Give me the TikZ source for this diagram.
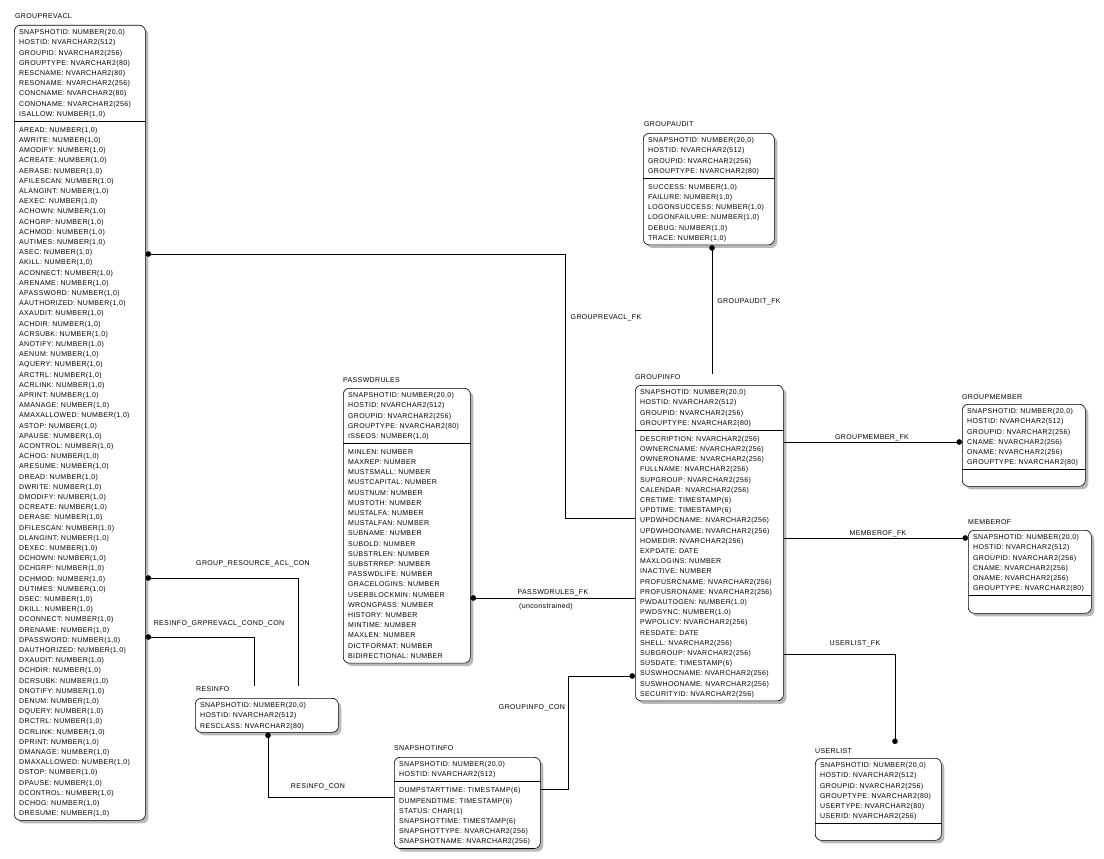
\documentclass[tikz,border=0pt]{standalone}
\usepackage{fontspec}
\newfontfamily\erfont[LetterSpace=5]{Liberation Sans}
\usetikzlibrary{arrows.meta,shadows}

\begin{document}
\begin{tikzpicture}[x=1pt, y=-1pt,
    ent/.style={draw, line width=0.6pt, rounded corners=6pt, fill=white,
      anchor=north west, inner sep=0pt,
      general shadow={fill=gray!55, shadow xshift=3pt, shadow yshift=-3pt}},
    attr/.style={anchor=north west, align=left, inner sep=0pt,
      font=\erfont\fontsize{7}{10.2}\selectfont},
    etitle/.style={anchor=base west, inner sep=0pt, font=\erfont\fontsize{7}{8}\selectfont},
    lbl/.style={inner sep=0pt, font=\erfont\fontsize{7}{8}\selectfont},
    sepline/.style={line width=0.6pt},
    fk/.style={line width=0.6pt, -{Circle[length=5.5pt]}}]
  \useasboundingbox (0,0) rectangle (1104,859);

  % GROUPREVACL
  \node[etitle] (grprevacl-t) at (15,19) {GROUPREVACL};
  \node[ent, minimum width=131pt, minimum height=795pt] (grprevacl) at (14,25) {};
  \draw[sepline] (grprevacl.west |- 0,121.1) -- (grprevacl.east |- 0,121.1);
  \node[attr] (grprevacl-k) at (19,29.4) {SNAPSHOTID: NUMBER(20,0)\\HOSTID: NVARCHAR2(512)\\
    GROUPID: NVARCHAR2(256)\\GROUPTYPE: NVARCHAR2(80)\\RESCNAME: NVARCHAR2(80)\\
    RESONAME: NVARCHAR2(256)\\CONCNAME: NVARCHAR2(80)\\CONONAME: NVARCHAR2(256)\\
    ISALLOW: NUMBER(1,0)};
  \node[attr] (grprevacl-n) at (19,127) {AREAD: NUMBER(1,0)\\AWRITE: NUMBER(1,0)\\
    AMODIFY: NUMBER(1,0)\\ACREATE: NUMBER(1,0)\\AERASE: NUMBER(1,0)\\
    AFILESCAN: NUMBER(1,0)\\ALANGINT: NUMBER(1,0)\\AEXEC: NUMBER(1,0)\\
    ACHOWN: NUMBER(1,0)\\ACHGRP: NUMBER(1,0)\\ACHMOD: NUMBER(1,0)\\
    AUTIMES: NUMBER(1,0)\\ASEC: NUMBER(1,0)\\AKILL: NUMBER(1,0)\\
    ACONNECT: NUMBER(1,0)\\ARENAME: NUMBER(1,0)\\APASSWORD: NUMBER(1,0)\\
    AAUTHORIZED: NUMBER(1,0)\\AXAUDIT: NUMBER(1,0)\\ACHDIR: NUMBER(1,0)\\
    ACRSUBK: NUMBER(1,0)\\ANOTIFY: NUMBER(1,0)\\AENUM: NUMBER(1,0)\\
    AQUERY: NUMBER(1,0)\\ARCTRL: NUMBER(1,0)\\ACRLINK: NUMBER(1,0)\\
    APRINT: NUMBER(1,0)\\AMANAGE: NUMBER(1,0)\\AMAXALLOWED: NUMBER(1,0)\\
    ASTOP: NUMBER(1,0)\\APAUSE: NUMBER(1,0)\\ACONTROL: NUMBER(1,0)\\
    ACHOG: NUMBER(1,0)\\ARESUME: NUMBER(1,0)\\
    DREAD: NUMBER(1,0)\\DWRITE: NUMBER(1,0)\\
    DMODIFY: NUMBER(1,0)\\DCREATE: NUMBER(1,0)\\DERASE: NUMBER(1,0)\\
    DFILESCAN: NUMBER(1,0)\\DLANGINT: NUMBER(1,0)\\DEXEC: NUMBER(1,0)\\
    DCHOWN: NUMBER(1,0)\\DCHGRP: NUMBER(1,0)\\DCHMOD: NUMBER(1,0)\\
    DUTIMES: NUMBER(1,0)\\DSEC: NUMBER(1,0)\\DKILL: NUMBER(1,0)\\
    DCONNECT: NUMBER(1,0)\\DRENAME: NUMBER(1,0)\\DPASSWORD: NUMBER(1,0)\\
    DAUTHORIZED: NUMBER(1,0)\\DXAUDIT: NUMBER(1,0)\\DCHDIR: NUMBER(1,0)\\
    DCRSUBK: NUMBER(1,0)\\DNOTIFY: NUMBER(1,0)\\DENUM: NUMBER(1,0)\\
    DQUERY: NUMBER(1,0)\\DRCTRL: NUMBER(1,0)\\DCRLINK: NUMBER(1,0)\\
    DPRINT: NUMBER(1,0)\\DMANAGE: NUMBER(1,0)\\DMAXALLOWED: NUMBER(1,0)\\
    DSTOP: NUMBER(1,0)\\DPAUSE: NUMBER(1,0)\\DCONTROL: NUMBER(1,0)\\
    DCHOG: NUMBER(1,0)\\DRESUME: NUMBER(1,0)};

  % GROUPAUDIT
  \node[etitle] (groupaudit-t) at (644,127) {GROUPAUDIT};
  \node[ent, minimum width=131pt, minimum height=111.6pt] (groupaudit) at (643,133) {};
  \draw[sepline] (groupaudit.west |- 0,178.1) -- (groupaudit.east |- 0,178.1);
  \node[attr] (groupaudit-k) at (648,137.4) {SNAPSHOTID: NUMBER(20,0)\\HOSTID: NVARCHAR2(512)\\
    GROUPID: NVARCHAR2(256)\\GROUPTYPE: NVARCHAR2(80)};
  \node[attr] (groupaudit-n) at (648,184) {SUCCESS: NUMBER(1,0)\\FAILURE: NUMBER(1,0)\\
    LOGONSUCCESS: NUMBER(1,0)\\LOGONFAILURE: NUMBER(1,0)\\DEBUG: NUMBER(1,0)\\
    TRACE: NUMBER(1,0)};

  % GROUPINFO
  \node[etitle] (groupinfo-t) at (635,379.5) {GROUPINFO};
  \node[ent, minimum width=148pt, minimum height=315.6pt] (groupinfo) at (635,385) {};
  \draw[sepline] (groupinfo.west |- 0,430.1) -- (groupinfo.east |- 0,430.1);
  \node[attr] (groupinfo-k) at (640,389.4) {SNAPSHOTID: NUMBER(20,0)\\HOSTID: NVARCHAR2(512)\\
    GROUPID: NVARCHAR2(256)\\GROUPTYPE: NVARCHAR2(80)};
  \node[attr] (groupinfo-n) at (640,436) {DESCRIPTION: NVARCHAR2(256)\\
    OWNERCNAME: NVARCHAR2(256)\\OWNERONAME: NVARCHAR2(256)\\FULLNAME: NVARCHAR2(256)\\
    SUPGROUP: NVARCHAR2(256)\\CALENDAR: NVARCHAR2(256)\\CRETIME: TIMESTAMP(6)\\
    UPDTIME: TIMESTAMP(6)\\UPDWHOCNAME: NVARCHAR2(256)\\UPDWHOONAME: NVARCHAR2(256)\\
    HOMEDIR: NVARCHAR2(256)\\EXPDATE: DATE\\MAXLOGINS: NUMBER\\INACTIVE: NUMBER\\
    PROFUSRCNAME: NVARCHAR2(256)\\PROFUSRONAME: NVARCHAR2(256)\\PWDAUTOGEN: NUMBER(1,0)\\
    PWDSYNC: NUMBER(1,0)\\PWPOLICY: NVARCHAR2(256)\\RESDATE: DATE\\
    SHELL: NVARCHAR2(256)\\SUBGROUP: NVARCHAR2(256)\\SUSDATE: TIMESTAMP(6)\\
    SUSWHOCNAME: NVARCHAR2(256)\\SUSWHOONAME: NVARCHAR2(256)\\SECURITYID: NVARCHAR2(256)};

  % PASSWDRULES
  \node[etitle] (passwdrules-t) at (343,382.5) {PASSWDRULES};
  \node[ent, minimum width=127pt, minimum height=274.8pt] (passwdrules) at (343,388) {};
  \draw[sepline] (passwdrules.west |- 0,443.3) -- (passwdrules.east |- 0,443.3);
  \node[attr] (passwdrules-k) at (348,392.4) {SNAPSHOTID: NUMBER(20,0)\\HOSTID: NVARCHAR2(512)\\
    GROUPID: NVARCHAR2(256)\\GROUPTYPE: NVARCHAR2(80)\\ISSEOS: NUMBER(1,0)};
  \node[attr] (passwdrules-n) at (348,449.2) {MINLEN: NUMBER\\MAXREP: NUMBER\\
    MUSTSMALL: NUMBER\\MUSTCAPITAL: NUMBER\\MUSTNUM: NUMBER\\MUSTOTH: NUMBER\\
    MUSTALFA: NUMBER\\MUSTALFAN: NUMBER\\SUBNAME: NUMBER\\SUBOLD: NUMBER\\
    SUBSTRLEN: NUMBER\\SUBSTRREP: NUMBER\\PASSWDLIFE: NUMBER\\GRACELOGINS: NUMBER\\
    USERBLOCKMIN: NUMBER\\WRONGPASS: NUMBER\\HISTORY: NUMBER\\MINTIME: NUMBER\\
    MAXLEN: NUMBER\\DICTFORMAT: NUMBER\\BIDIRECTIONAL: NUMBER};

  % GROUPMEMBER
  \node[etitle] (groupmember-t) at (962,399.5) {GROUPMEMBER};
  \node[ent, minimum width=123pt, minimum height=82pt] (groupmember) at (962,404) {};
  \draw[sepline] (groupmember.west |- 0,469.5) -- (groupmember.east |- 0,469.5);
  \node[attr] (groupmember-k) at (967,408.4) {SNAPSHOTID: NUMBER(20,0)\\HOSTID: NVARCHAR2(512)\\
    GROUPID: NVARCHAR2(256)\\CNAME: NVARCHAR2(256)\\ONAME: NVARCHAR2(256)\\
    GROUPTYPE: NVARCHAR2(80)};

  % MEMBEROF
  \node[etitle] (memberof-t) at (968,524.5) {MEMBEROF};
  \node[ent, minimum width=123pt, minimum height=83pt] (memberof) at (968,530) {};
  \draw[sepline] (memberof.west |- 0,595.5) -- (memberof.east |- 0,595.5);
  \node[attr] (memberof-k) at (973,534.4) {SNAPSHOTID: NUMBER(20,0)\\HOSTID: NVARCHAR2(512)\\
    GROUPID: NVARCHAR2(256)\\CNAME: NVARCHAR2(256)\\ONAME: NVARCHAR2(256)\\
    GROUPTYPE: NVARCHAR2(80)};

  % RESINFO
  \node[etitle] (resinfo-t) at (196,691.5) {RESINFO};
  \node[ent, minimum width=143pt, minimum height=34pt] (resinfo) at (195,698) {};
  \node[attr] (resinfo-k) at (200,702.4) {SNAPSHOTID: NUMBER(20,0)\\HOSTID: NVARCHAR2(512)\\
    RESCLASS: NVARCHAR2(80)};

  % SNAPSHOTINFO
  \node[etitle] (snapshotinfo-t) at (394,750.5) {SNAPSHOTINFO};
  \node[ent, minimum width=146pt, minimum height=91.2pt] (snapshotinfo) at (394,757) {};
  \draw[sepline] (snapshotinfo.west |- 0,781.7) -- (snapshotinfo.east |- 0,781.7);
  \node[attr] (snapshotinfo-k) at (399,761.4) {SNAPSHOTID: NUMBER(20,0)\\HOSTID: NVARCHAR2(512)};
  \node[attr] (snapshotinfo-n) at (399,787.6) {DUMPSTARTTIME: TIMESTAMP(6)\\
    DUMPENDTIME: TIMESTAMP(6)\\STATUS: CHAR(1)\\SNAPSHOTTIME: TIMESTAMP(6)\\
    SNAPSHOTTYPE: NVARCHAR2(256)\\SNAPSHOTNAME: NVARCHAR2(256)};

  % USERLIST
  \node[etitle] (userlist-t) at (815,753.5) {USERLIST};
  \node[ent, minimum width=126pt, minimum height=82pt] (userlist) at (815,758) {};
  \draw[sepline] (userlist.west |- 0,823.5) -- (userlist.east |- 0,823.5);
  \node[attr] (userlist-k) at (820,762.4) {SNAPSHOTID: NUMBER(20,0)\\HOSTID: NVARCHAR2(512)\\
    GROUPID: NVARCHAR2(256)\\GROUPTYPE: NVARCHAR2(80)\\USERTYPE: NVARCHAR2(80)\\
    USERID: NVARCHAR2(256)};

  % relationships
  \draw[fk] (groupinfo.west |- 0,518) -- ++(-70,0) |- (grprevacl.east |- 0,254);
  \draw[fk] ([yshift=11pt]groupinfo.north -| 712,0) -- (groupaudit.south -| 712,0);
  \draw[fk] (groupinfo.east |- 0,442) -- (groupmember.west |- 0,442);
  \draw[fk] (groupinfo.east |- 0,538) -- (memberof.west |- 0,538);
  \draw[fk] (groupinfo.east |- 0,654) -| ([yshift=14pt]userlist.north -| 895,0);
  \draw[fk] (groupinfo.west |- 0,598) -- (passwdrules.east |- 0,598);
  \draw[fk] (snapshotinfo.east |- 0,789) -- ++(28,0) |- (groupinfo.west |- 0,676);
  \draw[fk] (snapshotinfo.west |- 0,797) -| (resinfo.south -| 268,0);
  \draw[fk] ([yshift=12pt]resinfo.north -| 298,0) |- (grprevacl.east |- 0,578);
  \draw[fk] ([yshift=12pt]resinfo.north -| 254,0) |- (grprevacl.east |- 0,637);

  \node[lbl] (l-grprevacl) at (606,318) {GROUPREVACL\_FK};
  \node[lbl] (l-groupaudit) at (749,302) {GROUPAUDIT\_FK};
  \node[lbl] (l-groupmember) at (872,438) {GROUPMEMBER\_FK};
  \node[lbl] (l-memberof) at (878,534) {MEMBEROF\_FK};
  \node[lbl] (l-userlist) at (855,644) {USERLIST\_FK};
  \node[lbl] (l-passwdrules) at (553,593) {PASSWDRULES\_FK};
  \node[lbl] (l-unconstr) at (546,607) {(unconstrained)};
  \node[lbl] (l-groupinfo) at (532,708) {GROUPINFO\_CON};
  \node[lbl] (l-resinfo) at (318,787) {RESINFO\_CON};
  \node[lbl] (l-resacl) at (253,564) {GROUP\_RESOURCE\_ACL\_CON};
  \node[lbl] (l-cond) at (219,624) {RESINFO\_GRPREVACL\_COND\_CON};
\end{tikzpicture}
\end{document}
